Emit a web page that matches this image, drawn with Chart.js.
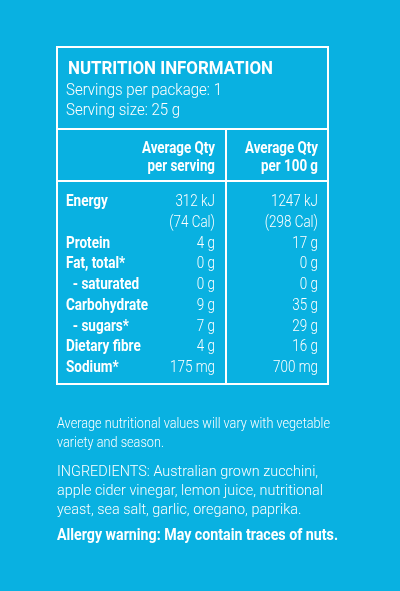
<!DOCTYPE html>
<html>
<head>
<meta charset="utf-8">
<title>Nutrition information</title>
<script src="https://cdn.jsdelivr.net/npm/chart.js@4.4.1/dist/chart.umd.min.js"></script>
<style>
  html, body { margin: 0; padding: 0; background: #09b1e1; }
  canvas { display: block; }
</style>
</head>
<body>
<canvas id="nutritionChart" width="400" height="591"></canvas>
<script>
const titleText = 'NUTRITION INFORMATION';
const servingInfo = ['Servings per package: 1', 'Serving size: 25 g'];
const columnHeads = [['Average Qty', 'per serving'], ['Average Qty', 'per 100 g']];
const nutrients = ['Energy', '', 'Protein', 'Fat, total*', '  - saturated', 'Carbohydrate', '  - sugars*', 'Dietary fibre', 'Sodium*'];
const perServing = ['312 kJ', '(74 Cal)', '4 g', '0 g', '0 g', '9 g', '7 g', '4 g', '175 mg'];
const per100g = ['1247 kJ', '(298 Cal)', '17 g', '0 g', '0 g', '35 g', '29 g', '16 g', '700 mg'];
const footNotes = ['Average nutritional values will vary with vegetable', 'variety and season.'];
const ingredients = ['INGREDIENTS: Australian grown zucchini,', 'apple cider vinegar, lemon juice, nutritional', 'yeast, sea salt, garlic, oregano, paprika.'];
const allergyText = 'Allergy warning: May contain traces of nuts.';

const WHITE = '#ffffff';
const BG = '#09b1e1';
const FAMILY = 'Roboto, "Liberation Sans", sans-serif';

// each text style gets squeezed sideways so a sample string hits the width seen in the label
const styles = {
    title: { font: 'bold 18px ' + FAMILY, ref: titleText, width: 205 },
    sub:   { font: '300 17px ' + FAMILY, ref: servingInfo[0], width: 156 },
    head:  { font: 'bold 17px ' + FAMILY, ref: 'Average Qty', width: 73 },
    label: { font: 'bold 17px ' + FAMILY, ref: 'Carbohydrate', width: 82 },
    value: { font: '300 17px ' + FAMILY, ref: '175 mg', width: 45 },
    foot:  { font: '300 15.5px ' + FAMILY, ref: footNotes[0], width: 273 },
    ingr:  { font: '300 15.5px ' + FAMILY, ref: ingredients[1], width: 266 },
    warn:  { font: 'bold 16px ' + FAMILY, ref: allergyText, width: 281 }
};

function squeeze(ctx, style) {
    if (!style.k) {
        ctx.font = style.font;
        style.k = style.width / ctx.measureText(style.ref).width;
    }
    return style.k;
}

function text(ctx, str, x, y, style, align) {
    const k = squeeze(ctx, style);
    ctx.save();
    ctx.font = style.font;
    ctx.fillStyle = WHITE;
    ctx.textAlign = align || 'left';
    ctx.textBaseline = 'alphabetic';
    ctx.translate(x, y);
    ctx.scale(k, 1);
    ctx.fillText(str, 0, 0);
    ctx.restore();
}

const panelPlugin = {
    id: 'panel',
    beforeDraw(chart) {
        const ctx = chart.ctx;
        ctx.save();
        ctx.fillStyle = BG;
        ctx.fillRect(0, 0, chart.width, chart.height);
        ctx.restore();
    },
    afterDraw(chart) {
        const ctx = chart.ctx;
        const y = chart.scales.y;
        const left = 57, right = 328, top = 47, bottom = 384;
        const headLine = 129, colLine = 181, midX = 226;
        const col1 = 215, col2 = 318;

        ctx.save();
        ctx.strokeStyle = WHITE;
        ctx.lineWidth = 2;
        ctx.strokeRect(left, top, right - left, bottom - top);
        ctx.beginPath();
        ctx.moveTo(left, headLine); ctx.lineTo(right, headLine);
        ctx.moveTo(left, colLine); ctx.lineTo(right, colLine);
        ctx.moveTo(midX, headLine); ctx.lineTo(midX, bottom);
        ctx.stroke();
        ctx.restore();

        text(ctx, titleText, 68, 74, styles.title);
        servingInfo.forEach((s, i) => text(ctx, s, 66, 95 + i * 20, styles.sub));
        columnHeads[0].forEach((s, i) => text(ctx, s, col1, 153 + i * 18, styles.head, 'right'));
        columnHeads[1].forEach((s, i) => text(ctx, s, col2, 153 + i * 18, styles.head, 'right'));

        nutrients.forEach((name, i) => {
            const py = y.getPixelForValue(i);
            if (name) text(ctx, name, 66, py, styles.label);
            text(ctx, perServing[i], col1, py, styles.value, 'right');
            text(ctx, per100g[i], col2, py, styles.value, 'right');
        });

        footNotes.forEach((s, i) => text(ctx, s, 57, 428 + i * 18.5, styles.foot));
        ingredients.forEach((s, i) => text(ctx, s, 57, 476 + i * 19, styles.ingr));
        text(ctx, allergyText, 57, 540, styles.warn);
    }
};

document.addEventListener('DOMContentLoaded', () => {
    const ctx = document.getElementById('nutritionChart').getContext('2d');
    const nutritionChart = new Chart(ctx, {
        type: 'line',
        data: {
            labels: nutrients,
            datasets: []
        },
        options: {
            responsive: false,
            animation: false,
            layout: {
                // row baselines run from Energy (206) down to Sodium (372)
                padding: { top: 206, bottom: 219, left: 57, right: 72 }
            },
            scales: {
                x: { display: false },
                y: { type: 'category', display: false, offset: false }
            },
            plugins: {
                legend: { display: false },
                tooltip: { enabled: false }
            }
        },
        plugins: [panelPlugin]
    });
});
</script>
</body>
</html>
